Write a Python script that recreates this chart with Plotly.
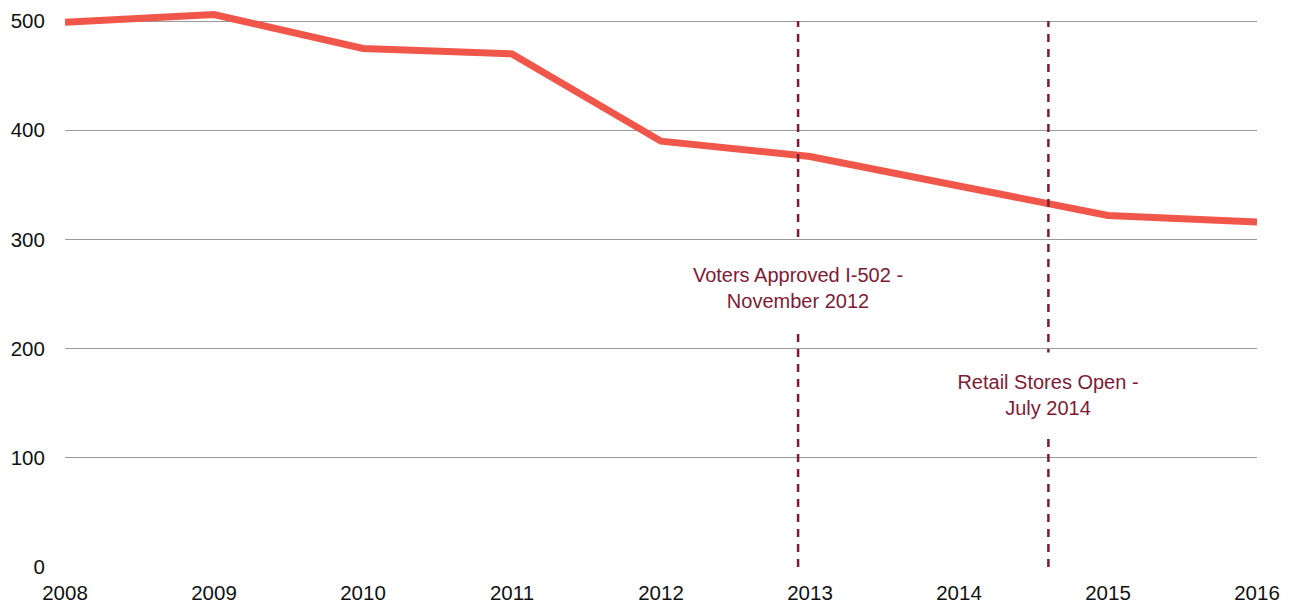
import plotly.graph_objects as go

years = [2008, 2009, 2010, 2011, 2012, 2013, 2014, 2015, 2016]
values = [499, 506, 475, 470, 390, 376, 349, 322, 316]

event_dates = [2012.92, 2014.6]
event_labels = ["Voters Approved I-502 -<br>November 2012", "Retail Stores Open -<br>July 2014"]
event_label_values = [256.4, 157.5]

y_ticks = [0, 100, 200, 300, 400, 500]
x_ticks = years

LINE_COLOR = "#F0574A"
EVENT_COLOR = "#7D1B36"
FONT = "Liberation Sans, Arial, Helvetica, sans-serif"

fig = go.Figure()
fig.add_trace(go.Scatter(
    x=years, y=values, mode="lines",
    line=dict(color=LINE_COLOR, width=7),
    hoverinfo="skip", showlegend=False,
))

for d in event_dates:
    fig.add_shape(type="line", xref="x", yref="y", x0=d, x1=d, y0=0, y1=500,
                  line=dict(color=EVENT_COLOR, width=2.5, dash="8px,7px"), layer="above")

for d, lab, yv, h in zip(event_dates, event_labels, event_label_values, [87, 84]):
    fig.add_annotation(x=d, y=yv, xref="x", yref="y", text=lab, showarrow=False,
                       font=dict(family=FONT, size=20, color=EVENT_COLOR),
                       bgcolor="white", height=h, width=260, borderpad=0,
                       align="center", valign="middle")

fig.update_xaxes(range=[2008, 2016], tickvals=x_ticks, ticktext=[str(y) for y in x_ticks],
                 showgrid=False, zeroline=False, showline=False,
                 ticks="outside", ticklen=7, tickcolor="rgba(0,0,0,0)",
                 tickfont=dict(family=FONT, size=20.5, color="#111"))
fig.update_yaxes(range=[0, 512.0], tickvals=y_ticks, showgrid=True, gridcolor="#9a9a9a",
                 gridwidth=1, zeroline=False, showline=False,
                 ticks="outside", ticklen=15, tickcolor="rgba(0,0,0,0)",
                 tickfont=dict(family=FONT, size=20.5, color="#111"))

fig.update_layout(
    width=1282, height=602,
    margin=dict(l=57, r=33, t=0, b=43),
    plot_bgcolor="white", paper_bgcolor="white",
    font=dict(family=FONT),
)

fig.write_html("out.html")
